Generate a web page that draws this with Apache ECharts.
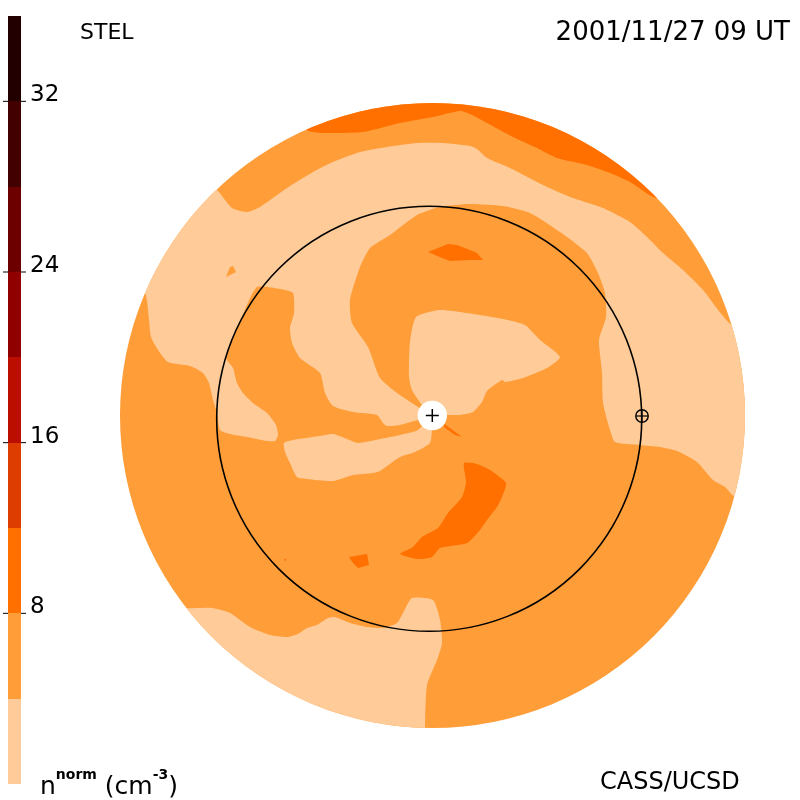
<!DOCTYPE html>
<html><head><meta charset="utf-8">
<script src="https://cdn.jsdelivr.net/npm/echarts@6/dist/echarts.min.js"></script>
<style>html,body{margin:0;padding:0;background:#fff}#c{width:800px;height:800px}</style>
</head><body><div id="c"></div>
<script>
// Colour scale
const bandLimits = [0,4,8,12,16,20,24,28,32,36];
const bandColors = ['#FFCC99','#FF9D38','#FF7000','#DD3D00','#BB0E00','#900000','#6C0000','#420000','#220000'];
const tickValues = [8,16,24,32];
// Sky-map geometry, in picture units
const discCentre = [432.5,415.5], discRadius = 312.5;
const holeCentre = [432.3,415.5], holeRadius = 14.7;
const orbitCentre = [429.2,418.8], orbitRadius = 212.5;
const earthPos = [642,416], earthRadius = 6.2;
// Contour regions
const paleOuter = [[145,293],[149,320],[151,337],[158,350],[168,362],[190,366],[203,373],[209,383],[213,400],[217,413],[220,430],[230,434],[247,437],[267,441],[275,441],[278,435],[276,425],[267,413],[253,403],[243,393],[237,383],[233,368],[226,358],[230,345],[236,330],[244,312],[250,298],[257,287],[267,287],[280,289],[293,293],[294,313],[290,328],[292,343],[300,358],[320,373],[325,393],[333,406],[353,412],[377,415],[383,423],[387,426],[400,425],[418,420],[432,416],[418,407],[397,393],[380,378],[368,347],[352,323],[350,300],[360,267],[370,248],[390,235],[417,215],[440,207],[470,204],[503,206],[530,213],[560,232],[587,253],[598,273],[605,293],[606,317],[599,340],[602,373],[603,403],[610,430],[615,442],[640,445],[660,447],[677,451],[697,462],[713,480],[725,487],[734,496],[770,500],[770,330],[732,325],[703,290],[683,270],[663,253],[647,237],[630,222],[603,208],[570,197],[543,185],[510,168],[487,158],[477,149],[470,146],[443,143],[417,143],[387,147],[360,152],[333,162],[313,172],[287,188],[260,207],[247,212],[232,208],[217,190],[190,170],[120,270]];
const paleHeart = [[432,416],[422,405],[412,390],[409,377],[410,342],[416,317],[440,310],[467,313],[503,319],[525,325],[540,340],[560,357],[547,368],[523,378],[505,382],[502,380],[487,391],[482,402],[473,412],[460,415],[447,415]];
const paleArm = [[284,443],[293,440],[320,436],[333,434],[347,439],[358,443],[380,439],[400,435],[418,430],[432,416],[432,428],[430,443],[415,452],[400,457],[380,471],[373,473],[353,475],[333,481],[307,479],[297,477],[290,463],[285,452]];
const paleSouth = [[187,608],[212,608],[230,613],[250,627],[270,635],[287,637],[298,634],[307,628],[317,625],[328,618],[335,617],[350,623],[367,627],[383,628],[397,623],[403,613],[412,598],[433,600],[440,620],[442,643],[437,660],[427,685],[425,728],[425,760],[150,700],[170,600]];
const midPatch = [[226,277],[230,267],[233,266],[236,272]];
const darkNorth = [[307,130],[323,133],[363,132],[400,123],[433,117],[460,111],[470,114],[487,123],[513,137],[537,148],[557,158],[587,165],[610,173],[630,182],[657,198],[680,180],[600,90],[430,70],[300,100]];
const darkCap = [[428,252],[448,244],[457,245],[470,250],[477,253],[483,260],[470,260],[450,261],[442,258]];
const darkSpiral = [[464,463],[477,464],[490,470],[506,483],[502,497],[497,507],[487,520],[480,530],[467,543],[440,548],[432,557],[417,559],[400,554],[413,547],[422,537],[438,528],[448,513],[462,497],[466,482]];
const darkSpot = [[349,557],[367,554],[369,565],[358,568],[353,563]];
const darkSpeck = [[284,560],[286,558],[286,561]];
const darkStreak = [[443,423],[462,437],[455,435],[445,428]];
const regions = [
 {pts:paleOuter,band:0},{pts:paleHeart,band:0},{pts:paleArm,band:0},{pts:paleSouth,band:0},
 {pts:midPatch,band:1},
 {pts:darkNorth,band:2},{pts:darkCap,band:2},{pts:darkSpiral,band:2},{pts:darkSpot,band:2},{pts:darkSpeck,band:2},{pts:darkStreak,band:2}
];
const txtFont = '"DejaVu Sans"';
const chart = echarts.init(document.getElementById('c'),null,{width:800,height:800});
function ring(api,c,r,style){const p=api.coord(c);return {type:'circle',shape:{cx:p[0],cy:p[1],r:api.size([r,0])[0]},style};}
function cross(api,c,r,w){const p=api.coord(c),s=api.size([r,0])[0];return [
 {type:'line',shape:{x1:p[0]-s,y1:p[1],x2:p[0]+s,y2:p[1]},style:{stroke:'#000',lineWidth:w}},
 {type:'line',shape:{x1:p[0],y1:p[1]-s,x2:p[0],y2:p[1]+s},style:{stroke:'#000',lineWidth:w}}];}
chart.setOption({
 animation:false,backgroundColor:'#fff',
 title:[
  {text:'STEL',left:80,top:22,padding:0,textStyle:{fontFamily:txtFont,fontWeight:'normal',fontSize:22,color:'#000'}},
  {text:'2001/11/27 09 UT',right:10,top:20,padding:0,textStyle:{fontFamily:txtFont,fontWeight:'normal',fontSize:26,color:'#000'}},
  {text:'CASS/UCSD',left:600,top:771,padding:0,textStyle:{fontFamily:txtFont,fontWeight:'normal',fontSize:24,color:'#000'}},
  {text:'{n|n}{s|norm}{n| (cm}{s|-3}{n|)}',left:40,top:768,padding:0,textStyle:{fontFamily:txtFont,fontWeight:'normal',color:'#000',
    rich:{n:{fontFamily:txtFont,fontSize:25,color:'#000',verticalAlign:'bottom'},s:{fontFamily:txtFont,fontSize:14,fontWeight:'bold',color:'#000',verticalAlign:'bottom',padding:[0,0,18,0]}}}}
 ],
 grid:[{left:0,top:0,width:800,height:800},{left:3,top:16,width:23,height:768}],
 xAxis:[{type:'value',min:0,max:800,show:false,gridIndex:0},{type:'value',min:0,max:23,show:false,gridIndex:1}],
 yAxis:[{type:'value',min:0,max:800,inverse:true,show:false,gridIndex:0},
  {type:'value',min:0,max:36,interval:4,gridIndex:1,position:'right',axisLine:{show:false},axisTick:{show:false},splitLine:{show:false},
   axisLabel:{margin:4,fontFamily:txtFont,fontSize:23,color:'#000',verticalAlign:'bottom',lineHeight:12,
    formatter:v=>tickValues.includes(v)?String(v):''}}],
 series:[
  {type:'custom',xAxisIndex:1,yAxisIndex:1,silent:true,clip:false,data:bandColors.map((c,i)=>[i]),
   renderItem(params,api){const i=api.value(0);const a=api.coord([5,bandLimits[i]]),b=api.coord([18,bandLimits[i+1]]);
    return {type:'rect',shape:{x:Math.round(a[0]),y:Math.round(b[1]),width:Math.round(b[0]-a[0]),height:Math.round(a[1])-Math.round(b[1])},style:{fill:bandColors[i]}};}},
  {type:'custom',xAxisIndex:1,yAxisIndex:1,silent:true,clip:false,data:tickValues.map(v=>[v]),z:3,
   renderItem(params,api){const v=api.value(0);const a=api.coord([0,v]),b=api.coord([5,v]),c=api.coord([18,v]),d=api.coord([23,v]);
    const st={stroke:'#000',lineWidth:1};
    return {type:'group',children:[{type:'line',shape:{x1:a[0],y1:a[1],x2:b[0],y2:b[1]},style:st},{type:'line',shape:{x1:c[0],y1:c[1],x2:d[0],y2:d[1]},style:st}]};}},
  {type:'custom',xAxisIndex:0,yAxisIndex:0,silent:true,clip:false,data:[[0]],
   renderItem(params,api){return ring(api,discCentre,discRadius,{fill:bandColors[1]});}},
  {type:'custom',xAxisIndex:0,yAxisIndex:0,silent:true,clip:false,data:regions.map((r,i)=>[i]),z:3,
   renderItem(params,api){const r=regions[api.value(0)];const c=api.coord(discCentre);
    return {type:'polygon',shape:{points:r.pts.map(p=>api.coord(p)),smooth:r.pts.length>12?0.2:0},style:{fill:bandColors[r.band]},
     clipPath:{type:'circle',shape:{cx:c[0],cy:c[1],r:api.size([discRadius,0])[0]}}};}},
  {type:'custom',xAxisIndex:0,yAxisIndex:0,silent:true,clip:false,data:[[0]],z:4,
   renderItem(params,api){return {type:'group',children:[
     ring(api,holeCentre,holeRadius,{fill:'#fff'}),
     ...cross(api,holeCentre,6.5,1.5),
     ring(api,orbitCentre,orbitRadius,{fill:'none',stroke:'#000',lineWidth:1.6}),
     ring(api,earthPos,earthRadius,{fill:'none',stroke:'#000',lineWidth:1.4}),
     ...cross(api,earthPos,6.2,1.2)
   ]};}}
 ]
});
</script></body></html>
